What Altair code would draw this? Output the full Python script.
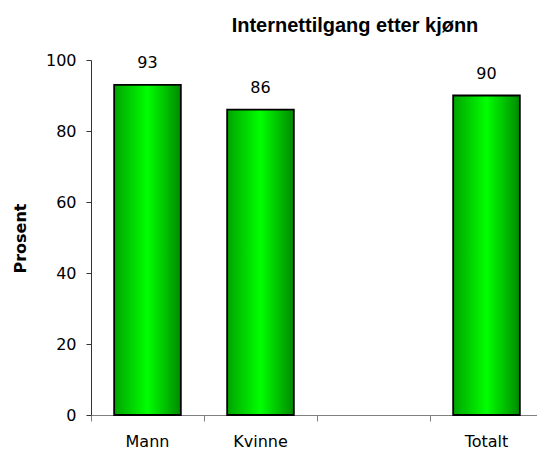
import altair as alt
import pandas as pd

categories = ["Mann", "Kvinne", " ", "Totalt"]
bar_categories = ["Mann", "Kvinne", "Totalt"]
values = [93, 86, 90]
title_text = ["Internettilgang etter kjønn"]

df = pd.DataFrame({"kat": bar_categories, "verdi": values})

FONT = "DejaVu Sans"

x = alt.X(
    "kat:N",
    scale=alt.Scale(domain=categories, paddingInner=0, paddingOuter=0, range=[0, 452]),
    sort=categories,
    axis=alt.Axis(
        title=None, labelAngle=0, bandPosition=0, domainColor="#808080",
        tickColor="#808080", tickSize=6, labelPadding=12, labelFontSize=16,
        labelFont=FONT, labelColor="#000000", domainWidth=1.2,
    ),
)
y = alt.Y(
    "verdi:Q",
    scale=alt.Scale(domain=[0, 100], nice=False),
    axis=alt.Axis(
        title="Prosent", values=[0, 20, 40, 60, 80, 100], grid=False,
        domainColor="#333333", tickColor="#333333", tickSize=5,
        labelFontSize=16, labelFont=FONT, labelColor="#000000", labelPadding=10,
        titleFont=FONT, titleFontSize=16, titleFontWeight="bold",
        titleX=-71, titleY=178, titleAngle=-90, titleAlign="center",
        titleBaseline="middle", titleColor="#000000",
    ),
)

bars = alt.Chart(df).mark_bar(
    width=alt.RelativeBandSize(0.59),
    color=alt.Gradient(
        gradient="linear", x1=0, x2=1, y1=0, y2=0,
        stops=[
            alt.GradientStop(offset=0, color="#00a400"),
            alt.GradientStop(offset=0.5, color="#00ff00"),
            alt.GradientStop(offset=1, color="#008a00"),
        ],
    ),
    stroke="#000000", strokeWidth=1.8,
).encode(x=x, y=y)

labels = alt.Chart(df).mark_text(
    baseline="alphabetic", dy=-17, fontSize=16, font=FONT, color="#000000"
).encode(x=x, y=y, text="verdi:Q")

title = alt.Chart(pd.DataFrame({"t": title_text})).mark_text(
    baseline="alphabetic", align="center", fontSize=20, font="Liberation Sans",
    fontWeight="bold", color="#000000",
).encode(text="t:N", x=alt.value(264), y=alt.value(-28))

chart = (bars + labels + title).properties(
    width=446, height=355,
    autosize=alt.AutoSizeParams(type="none"),
    padding={"left": 91, "top": 60, "right": 0, "bottom": 35},
).configure_view(stroke=None)

chart.save("out.html", embed_options={"renderer": "svg", "actions": False})
